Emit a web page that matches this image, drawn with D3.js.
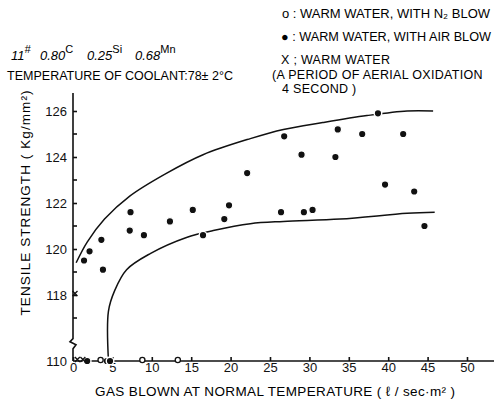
<!DOCTYPE html>
<html lang="en">
<head>
    <meta charset="UTF-8">
    <title></title>
    <style>
        body { margin: 0; background: #fff; }
        svg { font-family: "Liberation Sans", Arial, sans-serif; }
        .axis path, .axis line { stroke: #111; stroke-width: 1.6; }
        .axis text { font-size: 13px; fill: #111; }
    </style>
</head>
<body>
<svg id="chart"></svg>
<script src="https://cdnjs.cloudflare.com/ajax/libs/d3/7.8.5/d3.min.js"></script>
<script>
    var width = 494, height = 401;

    // filled circles: warm water with air blow
    var airX = [1.4, 2.1, 3.6, 3.8, 7.3, 7.2, 9.0, 12.3, 15.2, 16.5, 19.2, 19.8, 22.1,
                26.8, 29.0, 26.4, 29.3, 30.4, 33.6, 33.3, 36.7, 38.7, 41.9, 39.6, 43.3, 44.6,
                1.8, 4.3, 4.7];
    var airY = [119.5, 119.9, 120.4, 119.1, 121.6, 120.8, 120.6, 121.2, 121.7, 120.6, 121.3, 121.9, 123.3,
                124.9, 124.1, 121.6, 121.6, 121.7, 125.2, 124.0, 125.0, 125.9, 125.0, 122.8, 122.5, 121.0,
                110, 110, 110];
    // open circles: warm water with N2 blow
    var n2X = [3.5, 8.8, 13.3];
    var n2Y = [110, 110, 110];
    // crosses: warm water only
    var waterX = [0, 0.3, 1.0];
    var waterY = [118, 110, 110];
    // envelope curves
    var upperX = [0.4, 1.8, 4.0, 7.2, 11.9, 16.5, 22.5, 26.7, 31.7, 37.3, 42.4, 45.7];
    var upperY = [119.4, 120.3, 121.3, 122.3, 123.3, 124.1, 124.8, 125.2, 125.5, 125.8, 126.0, 126.0];
    var lowerX = [4.5, 4.5, 5.3, 6.8, 9.8, 14.4, 17.8, 22.5, 26.7, 33.9, 42.4, 45.9];
    var lowerY = [110, 117.3, 118.2, 119.1, 119.8, 120.5, 120.8, 121.1, 121.2, 121.3, 121.55, 121.6];
    var xTicks = [0, 5, 10, 15, 20, 25, 30, 35, 40, 45, 50];
    var yTicks = [110, 118, 120, 122, 124, 126];
    var yMinor = [117, 119, 121, 123, 125];

    var svg = d3.select("#chart").attr("width", width).attr("height", height);

    var x = d3.scaleLinear().domain([0, 50]).range([73, 467]);
    // broken y axis: 110 sits just below the break
    var y = d3.scaleLinear().domain([110, 116, 126]).range([361, 341, 111]);

    // x axis
    var xAxis = svg.append("g").attr("class", "axis")
        .attr("transform", "translate(0," + y(110) + ")")
        .call(d3.axisBottom(x).tickValues(xTicks).tickSize(-4).tickSizeOuter(0).tickPadding(3));
    xAxis.select(".domain").attr("d", "M" + x(0) + ",0H" + width);
    xAxis.selectAll(".tick text").attr("dy", "0.6em");

    // y axis
    var yAxis = svg.append("g").attr("class", "axis")
        .attr("transform", "translate(" + x(0) + ",0)")
        .call(d3.axisLeft(y).tickValues(yTicks).tickSize(-4).tickSizeOuter(0).tickPadding(6));
    yAxis.select(".domain").remove();
    yAxis.selectAll(".tick").filter(function(d) { return d === 110; }).select("line").remove();
    yAxis.selectAll(".minor").data(yMinor).enter().append("line")
        .attr("x1", 0).attr("x2", 4)
        .attr("y1", function(d) { return y(d); }).attr("y2", function(d) { return y(d); })
        .attr("stroke", "#111").attr("stroke-width", 1.6);
    var yb = y(115.2);
    yAxis.append("path")
        .attr("d", "M0," + y(110) + "V" + (yb + 5) + "l3,-4l-6,-3l3,-3V93")
        .attr("fill", "none").attr("stroke", "#111").attr("stroke-width", 1.6);

    // curves
    var line = d3.line()
        .x(function(d) { return x(d[0]); })
        .y(function(d) { return y(d[1]); })
        .curve(d3.curveCatmullRom.alpha(0.5));
    svg.append("path").datum(d3.zip(upperX, upperY))
        .attr("d", line).attr("fill", "none").attr("stroke", "#111").attr("stroke-width", 1.5);
    svg.append("path").datum(d3.zip(lowerX, lowerY))
        .attr("d", line).attr("fill", "none").attr("stroke", "#111").attr("stroke-width", 1.5);

    // points
    svg.selectAll(".air").data(d3.zip(airX, airY)).enter().append("circle")
        .attr("cx", function(d) { return x(d[0]); })
        .attr("cy", function(d) { return y(d[1]); })
        .attr("r", 3.8).attr("fill", "#111").attr("stroke", "#fff").attr("stroke-width", 1.4);
    svg.selectAll(".n2").data(d3.zip(n2X, n2Y)).enter().append("circle")
        .attr("cx", function(d) { return x(d[0]); })
        .attr("cy", function(d) { return y(d[1]) - 1; })
        .attr("r", 2.6).attr("fill", "#fff").attr("stroke", "#111").attr("stroke-width", 1.3);
    svg.selectAll(".water").data(d3.zip(waterX, waterY)).enter().append("path")
        .attr("d", function(d) {
            var cx = x(d[0]) + 2, cy = y(d[1]) - 1.5;
            return "M" + (cx - 2.5) + "," + (cy - 2.5) + "l5,5M" + (cx + 2.5) + "," + (cy - 2.5) + "l-5,5";
        })
        .attr("stroke", "#111").attr("stroke-width", 1.3);

    // axis titles
    svg.append("text")
        .attr("transform", "translate(30,203) rotate(-90)")
        .attr("text-anchor", "middle")
        .style("font-size", "13.5px")
        .attr("textLength", 225).attr("lengthAdjust", "spacing")
        .text("TENSILE  STRENGTH ( Kg/mm²)");
    svg.append("text")
        .attr("x", 275).attr("y", 396)
        .attr("text-anchor", "middle")
        .style("font-size", "13.5px")
        .attr("textLength", 360).attr("lengthAdjust", "spacing")
        .text("GAS BLOWN AT NORMAL TEMPERATURE ( ℓ / sec·m² )");

    // composition note
    var comp = svg.append("text").attr("y", 60)
        .style("font-size", "13px").style("font-style", "italic");
    [["11", "#", 11], ["0.80", "C", 40], ["0.25", "Si", 87], ["0.68", "Mn", 135]].forEach(function(p) {
        comp.append("tspan").attr("x", p[2]).attr("y", 60).text(p[0]);
        comp.append("tspan").attr("y", 53).style("font-size", "11px")
            .style("font-style", p[1] === "#" ? "italic" : "normal").text(p[1]);
    });
    svg.append("text").attr("x", 7).attr("y", 80)
        .style("font-size", "12.5px")
        .attr("textLength", 226).attr("lengthAdjust", "spacing")
        .text("TEMPERATURE OF COOLANT:78± 2°C");

    // legend
    var legend = [
        ["o : WARM WATER, WITH N₂ BLOW", 282, 18, 208],
        ["● : WARM WATER, WITH AIR BLOW", 281, 41, 210],
        ["X ; WARM WATER", 281, 64, 0],
        ["(A PERIOD OF AERIAL OXIDATION", 272, 79, 0],
        ["4 SECOND )", 282, 93, 0]
    ];
    svg.selectAll(".leg").data(legend).enter().append("text")
        .attr("x", function(d) { return d[1]; })
        .attr("y", function(d) { return d[2]; })
        .style("font-size", "12.5px")
        .style("letter-spacing", function(d) { return d[3] ? null : "0.3px"; })
        .each(function(d) {
            if (d[3]) d3.select(this).attr("textLength", d[3]).attr("lengthAdjust", "spacingAndGlyphs");
        })
        .text(function(d) { return d[0]; });
</script>
</body>
</html>
